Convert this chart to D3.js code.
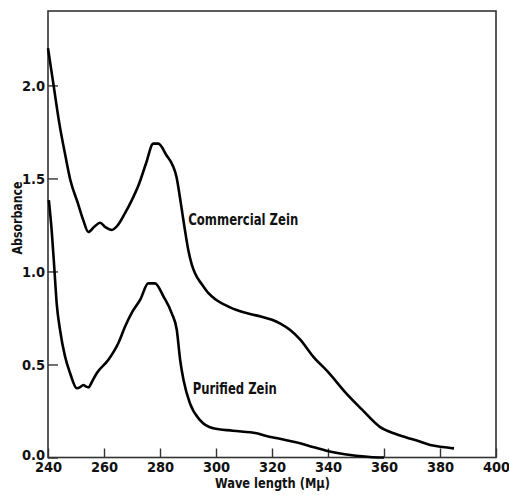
<!DOCTYPE html>
<html>
<head>
<meta charset="utf-8">
<script src="https://cdn.jsdelivr.net/npm/d3@7"></script>
<style>
html,body{margin:0;padding:0;background:#fff;}
svg{display:block;}
text{font-family:"DejaVu Sans Condensed","Liberation Sans Narrow","DejaVu Sans",sans-serif;font-weight:bold;fill:#111;}
</style>
</head>
<body>
<svg id="chart" width="509" height="495"></svg>
<script>
// ---- data ----
const commercialWL = [240,242,244,246.3,248,250.6,252.5,254.4,256.5,258.6,260.5,262.8,265,267.5,269.5,272.5,275,277.6,279.4,282.3,284.5,285.9,287,288,288.9,290.1,291.3,292.5,295,297.3,300,303.2,306,309.2,312.5,316.3,320,323,326.5,330,334.8,340,346.5,352,358.5,363.5,368,372,376.5,381,385];
const commercialAbs = [2.20,2.0,1.80,1.615,1.49,1.37,1.28,1.212,1.24,1.262,1.238,1.223,1.25,1.313,1.37,1.47,1.58,1.687,1.687,1.625,1.571,1.508,1.41,1.311,1.223,1.115,1.04,0.99,0.93,0.883,0.848,0.82,0.80,0.784,0.77,0.757,0.74,0.72,0.685,0.635,0.541,0.46,0.345,0.26,0.165,0.13,0.108,0.09,0.067,0.056,0.049];
const purifiedWL = [240.3,241.3,242.3,243.1,244.3,246.1,247.9,250.3,251.5,252.6,253.5,254.4,255.8,257.4,261.5,265.1,267.5,270,273,275.8,278.2,281.3,284.2,286,287.2,288.4,290.7,294.3,299,306,314.5,318,322,326,330,335,341,346,350,355,360];
const purifiedAbs = [1.384,1.223,1.008,0.829,0.685,0.542,0.453,0.372,0.378,0.39,0.382,0.377,0.41,0.453,0.524,0.614,0.703,0.78,0.85,0.936,0.936,0.864,0.775,0.685,0.524,0.416,0.291,0.201,0.157,0.144,0.130,0.115,0.103,0.09,0.076,0.055,0.031,0.017,0.009,0.003,0.0];
const xTicks = [240,260,280,300,320,340,360,380,400];
const yTicks = [0.0,0.5,1.0,1.5,2.0];
const xDomain = [240,400];
const yDomain = [0,2.4];
const labels = [
  {text:"Commercial Zein", wl:290.1, abs:1.25, len:110},
  {text:"Purified Zein", wl:291.7, abs:0.34, len:84}
];

// ---- drawing ----
const svg = d3.select("#chart");
const x = d3.scaleLinear().domain(xDomain).range([48,496]);
const y = d3.scaleLinear().domain(yDomain).range([457.5,11]);

// frame
svg.append("rect")
  .attr("x",x(240)).attr("y",y(2.4))
  .attr("width",x(400)-x(240)).attr("height",y(0)-y(2.4))
  .attr("fill","none").attr("stroke","#333").attr("stroke-width",1.6);

// axes with inward ticks
const xAxis = d3.axisBottom(x).tickValues(xTicks).tickFormat(d3.format("d")).tickSize(-9).tickPadding(4);
const gx = svg.append("g").attr("transform",`translate(0,${y(0)})`).call(xAxis);
gx.select(".domain").remove();
gx.selectAll(".tick line").attr("stroke","#333").attr("stroke-width",1.4);
gx.selectAll(".tick text").attr("font-size",14.5).attr("dy","0.75em").attr("fill","#111")
  .style("font-family","'DejaVu Sans Condensed',sans-serif").style("font-weight","bold");

const yAxis = d3.axisLeft(y).tickValues(yTicks).tickFormat(d3.format(".1f")).tickSize(-10).tickPadding(4);
const gy = svg.append("g").attr("transform",`translate(${x(240)},0)`).call(yAxis);
gy.select(".domain").remove();
gy.selectAll(".tick line").attr("stroke","#333").attr("stroke-width",1.4);
gy.selectAll(".tick text").attr("font-size",14.5).attr("fill","#111")
  .attr("x",-3)
  .style("font-family","'DejaVu Sans Condensed',sans-serif").style("font-weight","bold");
gy.selectAll(".tick").filter(d=>d===0).select("text").attr("dy","0.12em");

// axis titles
svg.append("text").attr("x",272.5).attr("y",488).attr("text-anchor","middle")
  .attr("font-size",14.5).attr("textLength",115).attr("lengthAdjust","spacingAndGlyphs")
  .text("Wave length (Mμ)");
svg.append("text").attr("transform","translate(22,218) rotate(-90)").attr("text-anchor","middle")
  .attr("font-size",14).attr("textLength",73).attr("lengthAdjust","spacingAndGlyphs")
  .text("Absorbance");

// curves
const line = d3.line().x(d=>x(d[0])).y(d=>y(d[1])).curve(d3.curveMonotoneX);
svg.append("path").datum(d3.zip(commercialWL,commercialAbs)).attr("d",line)
  .attr("fill","none").attr("stroke","#000").attr("stroke-width",2.6).attr("stroke-linejoin","round");
svg.append("path").datum(d3.zip(purifiedWL,purifiedAbs)).attr("d",line)
  .attr("fill","none").attr("stroke","#000").attr("stroke-width",2.6).attr("stroke-linejoin","round");

// labels
labels.forEach(l=>{
  svg.append("text").attr("x",x(l.wl)).attr("y",y(l.abs)).attr("font-size",16)
    .attr("textLength",l.len).attr("lengthAdjust","spacingAndGlyphs").text(l.text);
});
</script>
</body>
</html>
